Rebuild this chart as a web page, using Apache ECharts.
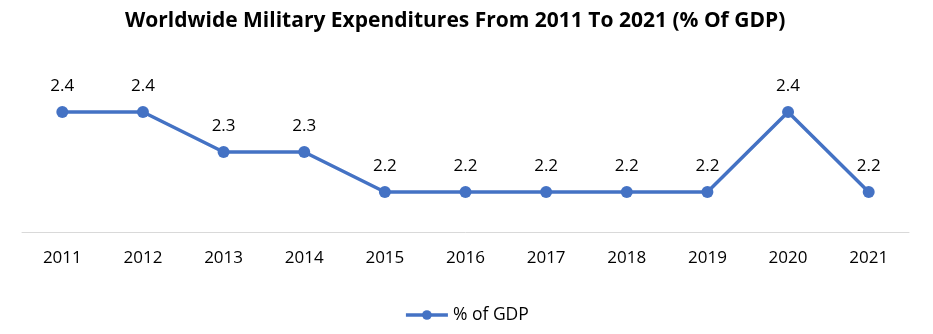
<!DOCTYPE html>
<html>
<head>
<meta charset="utf-8">
<script src="https://cdn.jsdelivr.net/npm/echarts@6/dist/echarts.min.js"></script>
<style>
  html, body { margin: 0; padding: 0; background: #fff; }
  #chart { width: 933px; height: 334px; }
</style>
</head>
<body>
<div id="chart"></div>
<script>
// Military spending as a share of world GDP, by year
const years = ['2011', '2012', '2013', '2014', '2015', '2016', '2017', '2018', '2019', '2020', '2021'];
const gdpShare = [2.4, 2.4, 2.3, 2.3, 2.2, 2.2, 2.2, 2.2, 2.2, 2.4, 2.2];
const seriesName = '% of GDP';
const chartTitle = 'Worldwide Military Expenditures From 2011 To 2021 (% Of GDP)';

const blue = '#4472C4';
const font = '"Open Sans", "Noto Sans", sans-serif';

const chart = echarts.init(document.getElementById('chart'), null, { renderer: 'canvas' });
chart.setOption({
  animation: false,
  backgroundColor: '#ffffff',
  title: {
    text: chartTitle,
    left: 120,
    top: 6,
    textStyle: { fontFamily: font, fontWeight: 'bold', fontSize: 21, color: '#000' }
  },
  legend: {
    data: [seriesName],
    bottom: 5,
    left: 'center',
    itemWidth: 42,
    itemHeight: 12,
    itemGap: 6,
    lineStyle: { width: 3.5 },
    textStyle: { fontFamily: font, fontSize: 17.5, color: '#000' }
  },
  grid: { left: 22, right: 24, top: 72, bottom: 102, containLabel: false },
  xAxis: {
    type: 'category',
    data: years,
    boundaryGap: true,
    axisLine: { lineStyle: { color: '#d9d9d9', width: 1 } },
    axisTick: { show: false },
    axisLabel: { fontFamily: font, fontSize: 17, color: '#000', margin: 18 }
  },
  yAxis: {
    type: 'value',
    min: 2.1,
    max: 2.5,
    show: false,
    splitLine: { show: false }
  },
  series: [{
    name: seriesName,
    type: 'line',
    data: gdpShare,
    color: blue,
    symbol: 'circle',
    symbolSize: 12,
    lineStyle: { width: 3.5, color: blue },
    itemStyle: { color: blue },
    label: {
      show: true,
      position: 'top',
      distance: 11,
      fontFamily: font,
      fontSize: 17,
      color: '#000',
      formatter: p => p.value.toFixed(1)
    }
  }]
});
</script>
</body>
</html>
